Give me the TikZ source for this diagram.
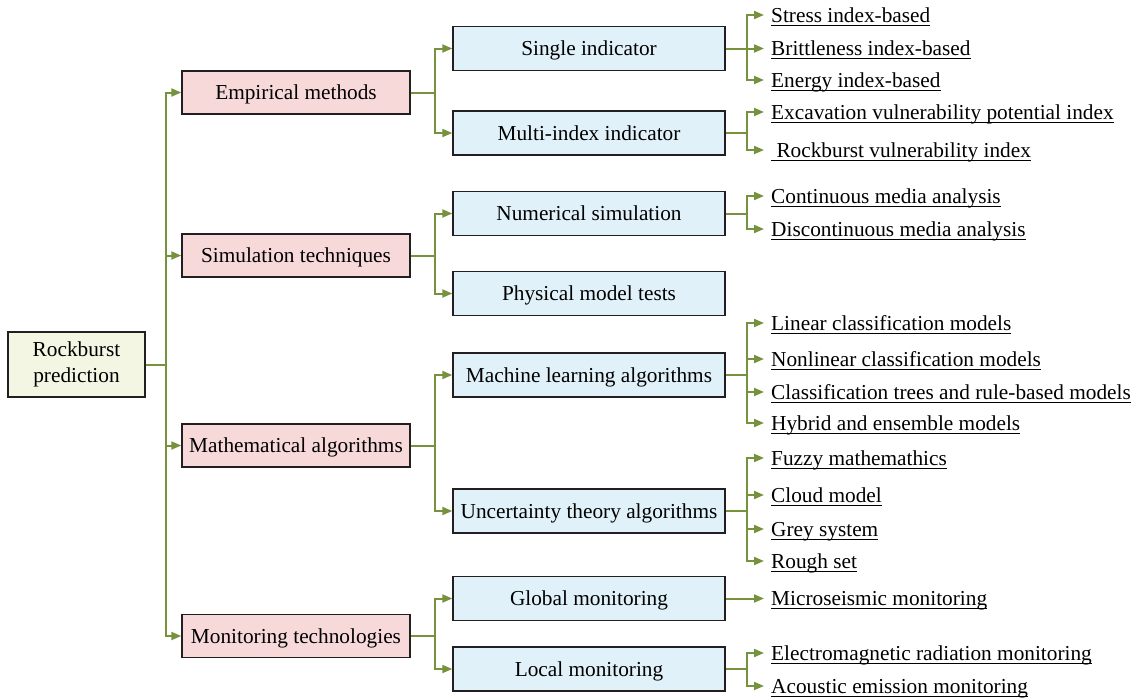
\documentclass[tikz,border=0pt]{standalone}
\usepackage{fontspec}
\setmainfont{Liberation Serif}
\usetikzlibrary{arrows.meta}
\definecolor{branch}{HTML}{76923C}
\definecolor{edge}{HTML}{231F20}
\definecolor{rootfill}{HTML}{F4F6E4}
\definecolor{topicfill}{HTML}{F8D9DA}
\definecolor{subfill}{HTML}{E0F1F9}
\newcommand{\ulined}[1]{\setbox0\hbox{#1}\rlap{\rule[-3.5pt]{\wd0}{1pt}}\box0}
\begin{document}
\begin{tikzpicture}[x=1pt,y=-1pt,font=\fontsize{21.3}{26}\selectfont,
  box/.style={draw=edge,line width=1.4pt,inner sep=0pt,align=center,text height=14pt,text depth=0pt},
  rootbox/.style={box,fill=rootfill,minimum width=137pt,minimum height=65pt,text height=,text depth=},
  topic/.style={box,fill=topicfill,minimum width=228pt,minimum height=43pt},
  subtopic/.style={box,fill=subfill,minimum width=272pt,minimum height=44pt},
  leaf/.style={anchor=west,inner ysep=2pt,inner xsep=7pt,text height=14pt,text depth=0pt},
  conn/.style={draw=branch,line width=2pt,-{Triangle[length=10pt,width=8pt]}}]
\useasboundingbox (0,0) rectangle (1135,699);
%\draw[help lines] (0,0) grid[step=50] (1135,699);
\node[rootbox] (rp) at (76.5,364.5) {Rockburst\\prediction};
\node[topic] (emp) at (296,92.5) {Empirical methods};
\node[topic] (sim) at (296,255.5) {Simulation techniques};
\node[topic] (math) at (296,445.5) {Mathematical algorithms};
\node[topic] (mon) at (296,636) {Monitoring technologies};
\foreach \t in {emp,sim,math,mon}
  \draw[conn] (rp.east) -- ++(20,0) |- (\t.west);
\node[subtopic] (single) at (589,48.5) {Single indicator};
\node[subtopic] (multi) at (589,133) {Multi-index indicator};
\node[subtopic] (num) at (589,213.5) {Numerical simulation};
\node[subtopic] (phys) at (589,293.5) {Physical model tests};
\node[subtopic] (ml) at (589,375) {Machine learning algorithms};
\node[subtopic] (unc) at (589,511) {Uncertainty theory algorithms};
\node[subtopic] (glob) at (589,598.5) {Global monitoring};
\node[subtopic] (loc) at (589,669) {Local monitoring};
\foreach \p/\t in {emp/single,emp/multi,sim/num,sim/phys,math/ml,math/unc,mon/glob,mon/loc}
  \draw[conn] (\p.east) -- ++(24,0) |- (\t.west);
% leaves
\foreach \p/\n/\y/\txt in {single/l1/15/Stress index-based,single/l2/48.5/Brittleness index-based,
    single/l3/80/Energy index-based,multi/l4/112/Excavation vulnerability potential index,
    multi/l5/150/\ Rockburst vulnerability index,num/l6/196/Continuous media analysis,
    num/l7/229/Discontinuous media analysis,ml/l8/323/Linear classification models,
    ml/l9/359/Nonlinear classification models,ml/l10/392/Classification trees and rule-based models,
    ml/l11/423/Hybrid and ensemble models,unc/l12/458/Fuzzy mathemathics,unc/l13/495/Cloud model,
    unc/l14/529/Grey system,unc/l15/561/Rough set,glob/l16/598.5/Microseismic monitoring,
    loc/l17/653/Electromagnetic radiation monitoring,loc/l18/686/Acoustic emission monitoring}{
  \node[leaf] (\n) at (764,\y) {\ulined{\txt}};
  \draw[conn] (\p.east) -- ++(21,0) |- (\n.west);
}
\end{tikzpicture}
\end{document}
